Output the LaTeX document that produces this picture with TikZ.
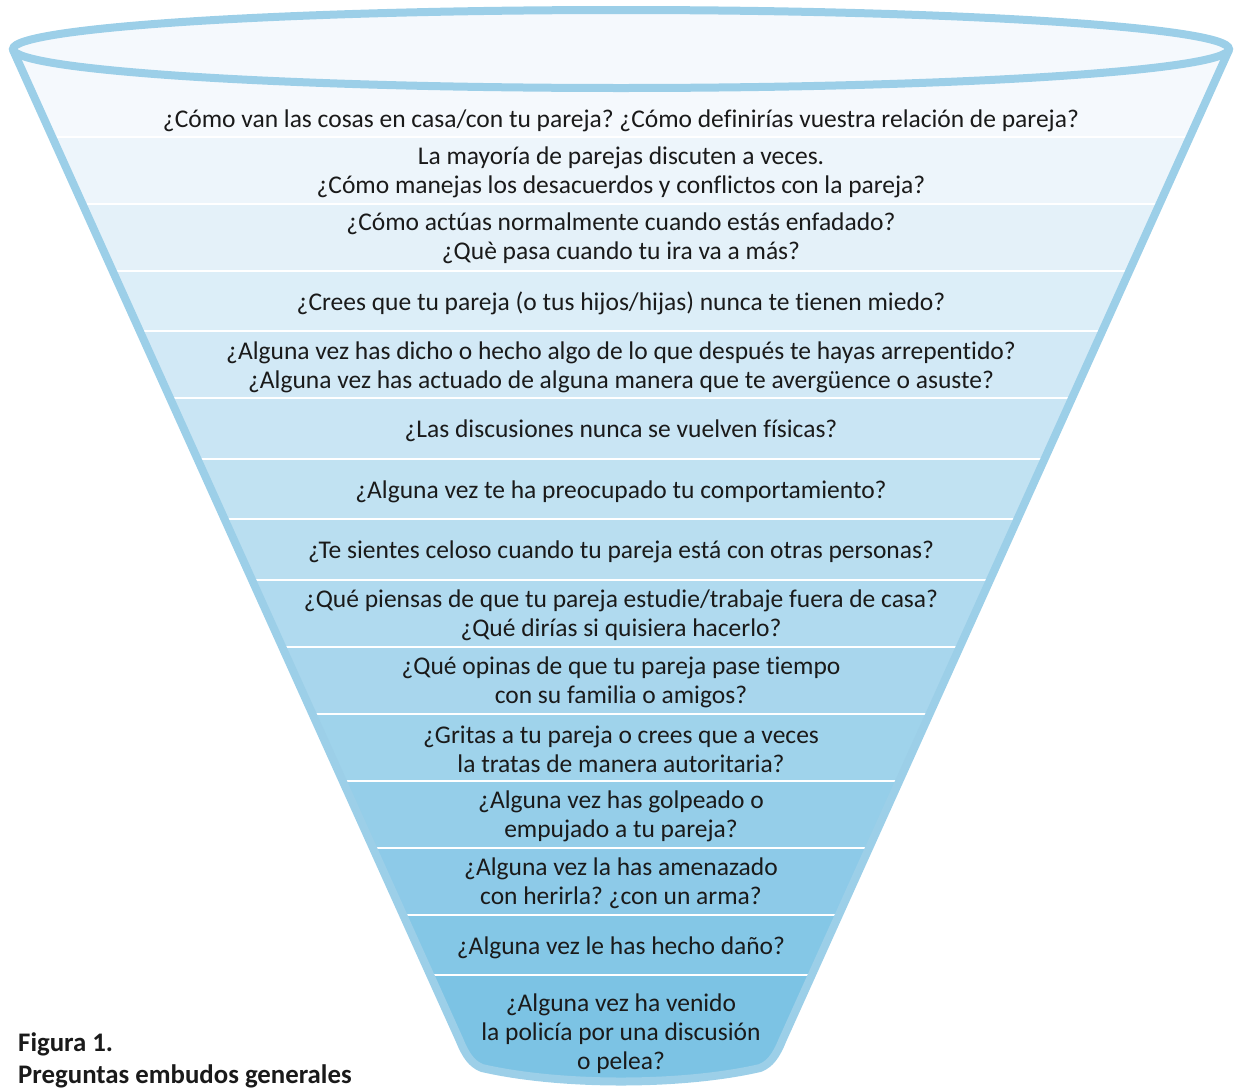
\documentclass[tikz,border=0pt]{standalone}
\usepackage{fontspec}
\setmainfont[Ligatures=NoCommon]{Carlito}
\definecolor{bandtop}{RGB}{245,249,253}
\definecolor{bandbot}{RGB}{124,195,228}
\definecolor{rim}{RGB}{156,207,232}
\definecolor{ink}{RGB}{26,26,26}
\tikzset{
  qtext/.style={align=center, text=ink, font=\frenchspacing\fontsize{25.5}{29}\selectfont, inner sep=0pt, yshift=-2pt},
  caption/.style={anchor=west, align=left, text=ink, font=\bfseries\fontsize{26.8}{32}\selectfont, inner sep=0pt},
  sep/.style={white, line width=2.6pt},
  rimline/.style={rim, line width=8pt, line join=round, line cap=round}
}
\def\funnelpath{(13,50) -- (459.5,1040) .. controls (466,1056) and (472,1064) .. (482,1068) .. controls (560,1086) and (682,1086) .. (760,1068) .. controls (770,1064) and (776,1056) .. (782.5,1040) -- (1229,50) -- cycle}
\begin{document}
\begin{tikzpicture}[x=1pt,y=-1pt]
\useasboundingbox (0,0) rectangle (1239,1090);
% bands
\begin{scope}
  \clip \funnelpath;
  \foreach \i/\ya/\yb in {1/0/137,2/137/204,3/204/271,4/271/331,5/331/398,6/398/459,7/459/519,8/519/580,9/580/647,10/647/714,11/714/781,12/781/848,13/848/915,14/915/975,15/975/1100}{
    \pgfmathtruncatemacro{\pc}{round(100*(\i-1)/14)}
    \fill[bandbot!\pc!bandtop] (0,\ya) rectangle (1239,\yb);
  }
  \foreach \y in {137,204,271,331,398,459,519,580,647,714,781,848,915,975}{
    \coordinate (sl\y) at (0,\y);
    \coordinate (sr\y) at (1239,\y);
    \draw[sep] (sl\y) -- (sr\y);
  }
\end{scope}
% rim of funnel
\draw[rimline] (13,50) -- (459.5,1040) .. controls (466,1056) and (472,1064) .. (482,1068) .. controls (560,1086) and (682,1086) .. (760,1068) .. controls (770,1064) and (776,1056) .. (782.5,1040) -- (1229,50);
% top ellipse
\draw[rim, line width=8pt, fill=bandtop] (621,49) ellipse [x radius=608, y radius=39];
% texts
\node[qtext] (q1) at (621,119) {¿Cómo van las cosas en casa/con tu pareja? ¿Cómo definirías vuestra relación de pareja?};
\node[qtext] (q2) at (621,170.5) {La mayoría de parejas discuten a veces.\\¿Cómo manejas los desacuerdos y conflictos con la pareja?};
\node[qtext] (q3) at (621,236.5) {¿Cómo actúas normalmente cuando estás enfadado?\\¿Què pasa cuando tu ira va a más?};
\node[qtext] (q4) at (621,301) {¿Crees que tu pareja (o tus hijos/hijas) nunca te tienen miedo?};
\node[qtext] (q5) at (621,365.5) {¿Alguna vez has dicho o hecho algo de lo que después te hayas arrepentido?\\¿Alguna vez has actuado de alguna manera que te avergüence o asuste?};
\node[qtext] (q6) at (621,429) {¿Las discusiones nunca se vuelven físicas?};
\node[qtext] (q7) at (621,490) {¿Alguna vez te ha preocupado tu comportamiento?};
\node[qtext] (q8) at (621,550) {¿Te sientes celoso cuando tu pareja está con otras personas?};
\node[qtext] (q9) at (621,613.5) {¿Qué piensas de que tu pareja estudie/trabaje fuera de casa?\\¿Qué dirías si quisiera hacerlo?};
\node[qtext] (q10) at (621,680.5) {¿Qué opinas de que tu pareja pase tiempo\\con su familia o amigos?};
\node[qtext] (q11) at (621,747.5) {¿Gritas a tu pareja o crees que a veces\\la tratas de manera autoritaria?};
\node[qtext] (q12) at (621,814.5) {¿Alguna vez has golpeado o\\empujado a tu pareja?};
\node[qtext] (q13) at (621,881.5) {¿Alguna vez la has amenazado\\con herirla? ¿con un arma?};
\node[qtext] (q14) at (621,946) {¿Alguna vez le has hecho daño?};
\node[qtext] (q15) at (621,1032) {¿Alguna vez ha venido\\la policía por una discusión\\o pelea?};
% caption
\node[caption] (cap) at (18,1060) {Figura 1.\\Preguntas embudos generales};
\end{tikzpicture}
\end{document}
